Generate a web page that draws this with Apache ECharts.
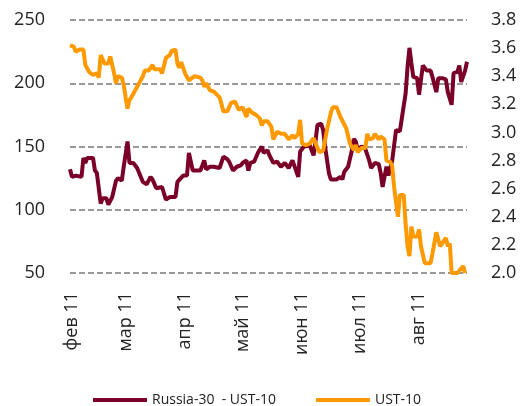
<!DOCTYPE html>
<html>
<head>
<meta charset="utf-8">
<script src="https://cdn.jsdelivr.net/npm/echarts@6/dist/echarts.min.js"></script>
<style>
  html, body { margin: 0; padding: 0; background: #fff; }
  #chart { width: 525px; height: 406px; }
</style>
</head>
<body>
<div id="chart"></div>
<script>
// month ticks on the x axis
var monthStarts = ['2011-02-01', '2011-03-01', '2011-04-01', '2011-05-01', '2011-06-01', '2011-07-01', '2011-08-01'];
var monthLabels = ['фев 11', 'мар 11', 'апр 11', 'май 11', 'июн 11', 'июл 11', 'авг 11'];

// Russia-30 - UST-10 spread, bp (left axis)
var russiaDates = [
  '2011-01-31',
  '2011-02-01','2011-02-03','2011-02-06','2011-02-07','2011-02-08','2011-02-09','2011-02-12','2011-02-13','2011-02-14','2011-02-16','2011-02-17','2011-02-19','2011-02-20','2011-02-22','2011-02-24','2011-02-25','2011-02-27','2011-02-28',
  '2011-03-02','2011-03-03','2011-03-05','2011-03-07','2011-03-08','2011-03-10','2011-03-12','2011-03-14','2011-03-15','2011-03-16','2011-03-17','2011-03-20','2011-03-21','2011-03-22','2011-03-24','2011-03-27','2011-03-28','2011-03-29','2011-03-31',
  '2011-04-02','2011-04-03','2011-04-05','2011-04-06','2011-04-09','2011-04-11','2011-04-12','2011-04-14','2011-04-16','2011-04-17','2011-04-19','2011-04-21','2011-04-23','2011-04-24','2011-04-26','2011-04-28','2011-04-30',
  '2011-05-01','2011-05-03','2011-05-04','2011-05-05','2011-05-07','2011-05-09','2011-05-10','2011-05-11','2011-05-12','2011-05-14','2011-05-15','2011-05-17','2011-05-19','2011-05-21','2011-05-23','2011-05-25','2011-05-27','2011-05-28','2011-05-30','2011-05-31',
  '2011-06-02','2011-06-05','2011-06-07','2011-06-08','2011-06-09','2011-06-11','2011-06-12','2011-06-13','2011-06-15','2011-06-16','2011-06-19','2011-06-21','2011-06-22','2011-06-23','2011-06-25','2011-06-27','2011-06-28','2011-06-29','2011-06-30',
  '2011-07-02','2011-07-04','2011-07-05','2011-07-06','2011-07-07','2011-07-09','2011-07-11','2011-07-12','2011-07-13','2011-07-15','2011-07-16','2011-07-18','2011-07-19','2011-07-20','2011-07-22','2011-07-23','2011-07-25','2011-07-26','2011-07-27','2011-07-28','2011-07-29','2011-07-31',
  '2011-08-01','2011-08-02','2011-08-03','2011-08-05','2011-08-07','2011-08-08','2011-08-10','2011-08-11','2011-08-13','2011-08-15','2011-08-16','2011-08-18','2011-08-19','2011-08-21','2011-08-22','2011-08-23','2011-08-25','2011-08-26'
];
var russiaValues = [
  132,
  126, 127, 126, 141, 137, 141, 141, 131, 129, 105, 109, 109, 104, 110, 123, 125, 123, 134,
  154, 137, 137, 133, 133, 122, 120, 126, 124, 125, 117, 118, 117, 108, 110, 110, 122, 121, 127,
  127, 145, 131, 130, 131, 139, 132, 134, 134, 135, 133, 142, 140, 138, 131, 134, 135,
  137, 139, 131, 137, 138, 145, 146, 150, 145, 147, 143, 137, 138, 134, 137, 133, 139, 138, 126, 146,
  150, 151, 143, 154, 167, 168, 163, 150, 129, 124, 124, 126, 124, 130, 134, 147, 156, 154, 147,
  150, 148, 148, 139, 133, 137, 136, 129, 118, 134, 127, 139, 139, 163, 162, 163, 192, 213, 228, 216, 205, 204,
  191, 203, 214, 210, 210, 205, 193, 204, 204, 203, 193, 183, 208, 209, 214, 201, 210, 217
];

// UST-10 yield, % (right axis)
var ustDates = [
  '2011-01-31',
  '2011-02-02','2011-02-03','2011-02-05','2011-02-07','2011-02-08','2011-02-09','2011-02-10','2011-02-12','2011-02-14','2011-02-15','2011-02-16','2011-02-18','2011-02-19','2011-02-20','2011-02-21','2011-02-23','2011-02-24','2011-02-25','2011-02-27','2011-02-28',
  '2011-03-01','2011-03-02','2011-03-03','2011-03-04','2011-03-05','2011-03-06','2011-03-07','2011-03-08','2011-03-10','2011-03-11','2011-03-13','2011-03-14','2011-03-15','2011-03-16','2011-03-17','2011-03-19','2011-03-20','2011-03-22','2011-03-24','2011-03-25','2011-03-27','2011-03-28','2011-03-29','2011-03-30',
  '2011-04-01','2011-04-02','2011-04-03','2011-04-04','2011-04-06','2011-04-07','2011-04-09','2011-04-10','2011-04-11','2011-04-12','2011-04-14','2011-04-16','2011-04-17','2011-04-19','2011-04-21','2011-04-23','2011-04-25','2011-04-27','2011-04-29',
  '2011-05-01','2011-05-03','2011-05-04','2011-05-06','2011-05-08','2011-05-10','2011-05-11','2011-05-12','2011-05-14','2011-05-16','2011-05-17','2011-05-19','2011-05-21','2011-05-23','2011-05-25','2011-05-27','2011-05-28','2011-05-30','2011-05-31',
  '2011-06-01','2011-06-03','2011-06-05','2011-06-07','2011-06-09','2011-06-10','2011-06-12','2011-06-14','2011-06-16','2011-06-17','2011-06-19','2011-06-21','2011-06-22','2011-06-24','2011-06-25','2011-06-26','2011-06-28','2011-06-29','2011-06-30',
  '2011-07-02','2011-07-04','2011-07-05','2011-07-06','2011-07-08','2011-07-09','2011-07-11','2011-07-12','2011-07-14','2011-07-15','2011-07-17','2011-07-18','2011-07-19','2011-07-21','2011-07-22','2011-07-24','2011-07-25','2011-07-26','2011-07-27','2011-07-28','2011-07-29','2011-07-31',
  '2011-08-01','2011-08-02','2011-08-04','2011-08-07','2011-08-08','2011-08-10','2011-08-12','2011-08-13','2011-08-15','2011-08-16','2011-08-17','2011-08-18','2011-08-21','2011-08-22','2011-08-24','2011-08-25'
];
var ustValues = [
  3.62,
  3.61, 3.575, 3.59, 3.59, 3.48, 3.49, 3.43, 3.41, 3.42, 3.39, 3.55, 3.49, 3.49, 3.49, 3.54, 3.42, 3.35, 3.40, 3.39, 3.34,
  3.25, 3.17, 3.23, 3.25, 3.25, 3.30, 3.325, 3.35, 3.40, 3.44, 3.44, 3.46, 3.48, 3.45, 3.46, 3.45, 3.42, 3.53, 3.55, 3.58, 3.59, 3.49, 3.46, 3.50,
  3.42, 3.41, 3.37, 3.38, 3.40, 3.39, 3.39, 3.37, 3.325, 3.35, 3.30, 3.29, 3.28, 3.25, 3.15, 3.15, 3.21, 3.22, 3.16,
  3.18, 3.11, 3.17, 3.14, 3.125, 3.10, 3.05, 3.08, 3.08, 3.04, 2.95, 3.005, 2.99, 2.99, 2.95, 2.98, 2.96, 2.99, 3.09,
  2.92, 2.91, 2.92, 2.96, 2.89, 2.86, 2.87, 3.02, 3.14, 3.18, 3.18, 3.11, 3.12, 3.03, 3.02, 2.92, 2.875, 2.91, 2.86,
  2.89, 2.89, 2.99, 2.95, 2.96, 2.99, 2.95, 2.97, 2.95, 2.80, 2.79, 2.76, 2.61, 2.40, 2.555, 2.555, 2.35, 2.19, 2.12, 2.33, 2.26, 2.26,
  2.31, 2.19, 2.07, 2.07, 2.14, 2.29, 2.19, 2.19, 2.25, 2.19, 2.21, 2.00, 2.00, 2.00, 2.05, 2.00
];

var toTime = function (s) {
    return +echarts.time.parse(s);
};

var pair = function (dates, values) {
    var res = [];
    for (var i = 0; i < dates.length; i++) {
        res.push([toTime(dates[i]), values[i]]);
    }
    return res;
};

var monthTimes = monthStarts.map(toTime);

var textColor = '#222';
var font = 'Open Sans';

var option = {
    backgroundColor: '#fff',
    animation: false,
    grid: { left: 70, right: 58, top: 20, bottom: 133 },
    legend: {
        left: 88,
        top: 388,
        icon: 'rect',
        itemWidth: 54,
        itemHeight: 4,
        itemGap: 40,
        textStyle: { fontFamily: font, fontSize: 14, color: textColor }
    },
    xAxis: {
        type: 'value',
        min: toTime('2011-01-31'),
        max: toTime('2011-08-26'),
        axisLine: { show: false },
        axisTick: { show: false },
        splitLine: { show: false },
        axisLabel: {
            rotate: 90,
            margin: 19,
            fontFamily: font,
            fontSize: 18,
            color: textColor,
            customValues: monthTimes,
            formatter: function (val) {
                var i = monthTimes.indexOf(+val);
                return i >= 0 ? monthLabels[i] : '';
            }
        }
    },
    yAxis: [
        {
            type: 'value',
            min: 50,
            max: 250,
            interval: 50,
            axisLine: { show: false },
            axisTick: { show: false },
            axisLabel: { margin: 25, fontFamily: font, fontSize: 18, color: textColor },
            splitLine: { lineStyle: { color: '#999', width: 2, type: [6, 3] } }
        },
        {
            type: 'value',
            min: 2.0,
            max: 3.8,
            interval: 0.2,
            position: 'right',
            axisLine: { show: false },
            axisTick: { show: false },
            splitLine: { show: false },
            axisLabel: {
                margin: 24,
                fontFamily: font,
                fontSize: 18,
                color: textColor,
                formatter: function (v) { return v.toFixed(1); }
            }
        }
    ],
    series: [
        {
            name: 'Russia-30  - UST-10',
            type: 'line',
            yAxisIndex: 0,
            showSymbol: false,
            data: pair(russiaDates, russiaValues),
            itemStyle: { color: '#7A0028' },
            lineStyle: { color: '#7A0028', width: 4 }
        },
        {
            name: 'UST-10',
            type: 'line',
            yAxisIndex: 1,
            showSymbol: false,
            data: pair(ustDates, ustValues),
            itemStyle: { color: '#FF9900' },
            lineStyle: { color: '#FF9900', width: 4 }
        }
    ]
};

var myChart = echarts.init(document.getElementById('chart'));
myChart.setOption(option);
</script>
</body>
</html>
